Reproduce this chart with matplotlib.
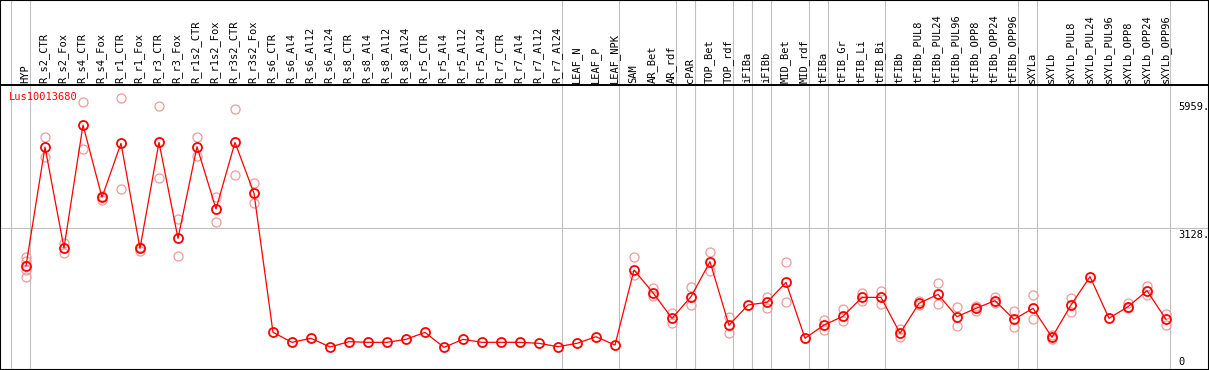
import matplotlib
matplotlib.use("Agg")
import matplotlib.pyplot as plt

labels = [
    "HYP", "R_s2_CTR", "R_s2_Fox", "R_s4_CTR", "R_s4_Fox", "R_r1_CTR", "R_r1_Fox",
    "R_r3_CTR", "R_r3_Fox", "R_r1s2_CTR", "R_r1s2_Fox", "R_r3s2_CTR", "R_r3s2_Fox",
    "R_s6_CTR", "R_s6_Al4", "R_s6_Al12", "R_s6_Al24", "R_s8_CTR", "R_s8_Al4",
    "R_s8_Al12", "R_s8_Al24", "R_r5_CTR", "R_r5_Al4", "R_r5_Al12", "R_r5_Al24",
    "R_r7_CTR", "R_r7_Al4", "R_r7_Al12", "R_r7_Al24", "LEAF_N", "LEAF_P", "LEAF_NPK",
    "SAM", "AR_Bet", "AR_rdf", "cPAR", "TOP_Bet", "TOP_rdf", "iFIBa", "iFIBb",
    "MID_Bet", "MID_rdf", "tFIBa", "tFIB_Gr", "tFIB_Li", "tFIB_Bi", "tFIBb",
    "tFIBb_PUL8", "tFIBb_PUL24", "tFIBb_PUL96", "tFIBb_OPP8", "tFIBb_OPP24",
    "tFIBb_OPP96", "sXYLa", "sXYLb", "sXYLb_PUL8", "sXYLb_PUL24", "sXYLb_PUL96",
    "sXYLb_OPP8", "sXYLb_OPP24", "sXYLb_OPP96",
]

# sample group sizes (separators are drawn after each group)
group_sizes = [1, 28, 3, 3, 1, 2, 1, 1, 2, 1, 3, 7, 1, 7]

means = [
    2290, 4924, 2684, 5412, 3808, 5006, 2677, 5028, 2899, 4931, 3549, 5028, 3896,
    813, 592, 681, 488, 606, 592, 592, 658, 813, 480, 658, 592, 592, 592, 570, 495,
    570, 716, 532,
    2196, 1692, 1124, 1604, 2381, 969, 1420, 1479, 1923, 681, 976, 1169, 1589, 1589,
    792, 1457, 1656, 1160, 1346, 1516, 1102, 1346, 703, 1420, 2048, 1124, 1382,
    1737, 1102,
]

replicates = [
    [2491, 2403, 2196, 2048], [5139, 4695], [2788, 2566], [5929, 4873], [3837, 3748],
    [6004, 3985], [2713, 2624], [5833, 4229], [3320, 2506], [5139, 4724],
    [3822, 3254], [5760, 4303], [4119, 3675],
    [], [], [], [], [], [], [], [], [], [], [], [], [], [], [], [],
    [], [], [],
    [2477, 2085], [1790, 1619], [1249, 1027], [1811, 1413], [2602, 2180], [1147, 792],
    [], [1604, 1346], [2381, 1479], [], [1087, 865], [1324, 1072], [1679, 1501],
    [1723, 1442], [880, 716], [1516, 1420], [1901, 1435], [1382, 954], [1397, 1294],
    [1604, 1457], [1286, 924], [1641, 1102], [754, 658], [1568, 1271], [], [],
    [1471, 1346], [1848, 1641], [1220, 976],
]

gene = "Lus10013680"
ytick_vals = [5959, 3128, 0]
ytick_text = ["5959.", "3128.", "0"]

W, H = 1209, 370
PX = 3128 / 141.0          # value units per pixel
X0, DX = 26, 19            # pixel position of first sample, spacing


def px_x(p):
    return (p - X0) / DX


def px_y(p):
    return (369 - p) * PX


font = "DejaVu Sans Mono"
fs = 7.5
grey = "#c0c0c0"
pink = "#f09a9a"

fig = plt.figure(figsize=(W / 100, H / 100), dpi=100)
ax = fig.add_axes([0, 0, 1, 1])
ax.set_xlim(px_x(0), px_x(W))
ax.set_ylim(px_y(370), px_y(0))
ax.set_xticks([])
ax.set_yticks([])
for s in ax.spines.values():
    s.set_color("black")
    s.set_linewidth(1.5)

# group separators
pos = -1
ax.axvline(pos + 0.21, color=grey, lw=0.8, zorder=1)
for g in group_sizes:
    pos += g
    ax.axvline(pos + 0.21, color=grey, lw=0.8, zorder=1)

ax.axhline(3128, color=grey, lw=0.8, zorder=1)
ax.axhline(px_y(85), color="black", lw=1.4, zorder=5)

xs = list(range(len(labels)))

for i, reps in enumerate(replicates):
    if reps:
        ax.plot([i] * len(reps), reps, "o", ms=6.5, mfc="none", mec=pink,
                mew=0.9, zorder=2, linestyle="none")

ax.plot(xs, means, "-", color="red", lw=0.9, zorder=3)
ax.plot(xs, means, "o", ms=6.5, mfc="none", mec="red", mew=1.3, zorder=4)

for i, lab in enumerate(labels):
    ax.text(i - 0.05, px_y(83), lab, rotation=90, ha="center", va="bottom",
            fontsize=fs, family=font, color="black")

ax.text(px_x(9), px_y(97), gene, color="red", fontsize=fs, family=font,
        ha="left", va="center")

for v, t in zip(ytick_vals, ytick_text):
    va = "bottom" if v == 0 else "top"
    yv = px_y(367) if v == 0 else v - 2 * PX
    ax.text(px_x(1178), yv, t, fontsize=fs, family=font, ha="left", va=va)

fig.savefig("out.png", dpi=100)
